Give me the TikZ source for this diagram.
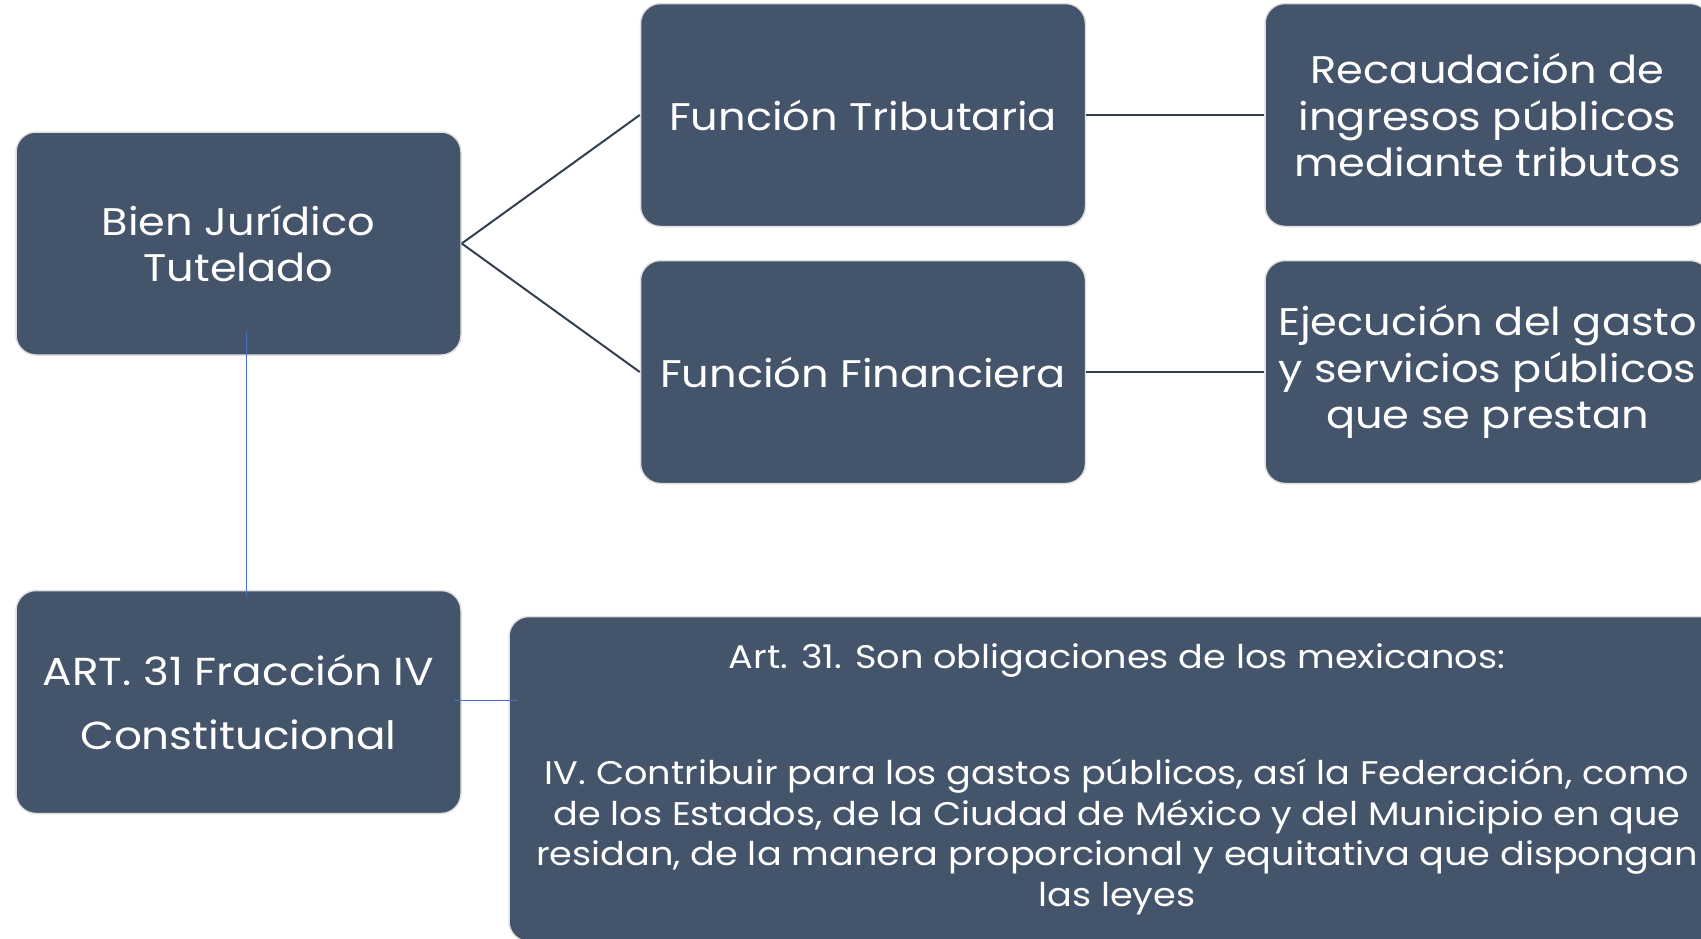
\documentclass[tikz,border=0pt]{standalone}
\usepackage{fontspec}
\setmainfont{Poppins}[FakeStretch=1.12]
\definecolor{pizarra}{HTML}{44546A}
\definecolor{oscuro}{HTML}{323F4F}
\definecolor{azul}{HTML}{4472C4}
\begin{document}
\begin{tikzpicture}[x=1pt,y=-1pt,
    caja/.style={draw=gray!25,line width=1.5pt,fill=pizarra,rounded corners=20pt,text=white,align=center,
        minimum width=445pt,minimum height=223pt,inner sep=0pt,font=\fontsize{38.5}{46.5}\selectfont},
    rama/.style={draw=oscuro,line width=2pt},
    enlace/.style={draw=azul,line width=1pt}]
    \useasboundingbox (0,0) rectangle (1701,938);
    \node[caja](bien) at (238.5,243.5){Bien Jurídico\\Tutelado};
    \node[caja](tributaria) at (863,115){Función Tributaria};
    \node[caja](financiera) at (863,372){Función Financiera};
    \node[caja](recaudacion) at (1487.5,115){Recaudación de\\ingresos públicos\\mediante tributos};
    \node[caja](ejecucion) at (1487.5,372){Ejecución del gasto\\y servicios públicos\\que se prestan};
    \node[caja,font=\fontsize{39}{64}\selectfont](articulo) at (238.5,702){ART. 31 Fracción IV\\Constitucional};
    \node[caja,minimum width=1216pt,minimum height=325pt,font=\fontsize{32.7}{40.5}\selectfont](texto) at (1117,779)
        {Art. 31. Son obligaciones de los mexicanos:\\[76pt]
         IV. Contribuir para los gastos públicos, así la Federación, como\\
         de los Estados, de la Ciudad de México y del Municipio en que\\
         residan, de la manera proporcional y equitativa que dispongan\\
         las leyes};
    \draw[rama](bien.east)--(tributaria.west);
    \draw[rama](bien.east)--(financiera.west);
    \draw[rama](tributaria)--(recaudacion);
    \draw[rama](financiera)--(ejecucion);
    \draw[enlace,shorten <=-24pt,shorten >=-6pt]([xshift=8pt]bien.south)--([xshift=8pt]articulo.north);
    \draw[enlace,shorten <=-8pt,shorten >=-10pt]([yshift=2pt]articulo.east)--([yshift=2pt]articulo.east-|texto.west);
\end{tikzpicture}
\end{document}
